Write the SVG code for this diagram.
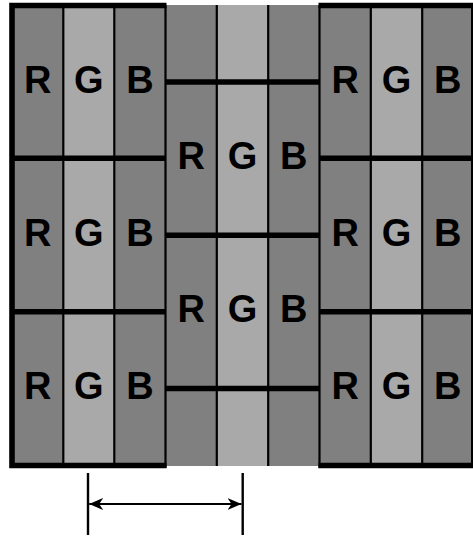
<svg xmlns="http://www.w3.org/2000/svg" width="473" height="537" viewBox="0 0 473 537">
  <style>
    .d { fill: #808080; }
    .l { fill: #a9a9a9; }
    .col { stroke: #000; stroke-width: 2.2; }
    .row { stroke: #000; stroke-width: 5.5; }
    .bord { fill: none; stroke: #000; stroke-width: 5.6; }
    .t { font-family: "Liberation Sans", Arial, sans-serif; font-weight: bold; font-size: 38px; fill: #000; text-anchor: middle; }
    .dim { stroke: #000; stroke-width: 2.4; }
  </style>
  <defs>
    <marker id="ah" viewBox="0 0 14 12" refX="14" refY="6" markerWidth="14" markerHeight="12" markerUnits="userSpaceOnUse" orient="auto-start-reverse">
      <path d="M0,0 L14,6 L0,12 L4,6 Z" fill="#000"/>
    </marker>
  </defs>
  <rect width="473" height="537" fill="#fff"/>

  <g id="middle-block">
    <rect class="d" x="165.5" y="5" width="51.3" height="461"/>
    <rect class="l" x="216.8" y="5" width="51.4" height="461"/>
    <rect class="d" x="268.2" y="5" width="51.3" height="461"/>
    <line class="col" x1="216.8" y1="5" x2="216.8" y2="466"/>
    <line class="col" x1="268.2" y1="5" x2="268.2" y2="466"/>
    <line class="row" x1="165.5" y1="82" x2="319.5" y2="82"/>
    <line class="row" x1="165.5" y1="235.3" x2="319.5" y2="235.3"/>
    <line class="row" x1="165.5" y1="388.6" x2="319.5" y2="388.6"/>
    <text class="t" x="191.2" y="169">R</text>
    <text class="t" x="242.5" y="169">G</text>
    <text class="t" x="293.8" y="169">B</text>
    <text class="t" x="191.2" y="322.3">R</text>
    <text class="t" x="242.5" y="322.3">G</text>
    <text class="t" x="293.8" y="322.3">B</text>
  </g>

  <g id="left-block">
    <rect class="d" x="12" y="5.5" width="51.3" height="460"/>
    <rect class="l" x="63.3" y="5.5" width="51" height="460"/>
    <rect class="d" x="114.3" y="5.5" width="51.2" height="460"/>
    <line class="col" x1="63.3" y1="5.5" x2="63.3" y2="465.5"/>
    <line class="col" x1="114.3" y1="5.5" x2="114.3" y2="465.5"/>
    <line class="col" x1="165.5" y1="5.5" x2="165.5" y2="468"/>
    <line class="row" x1="12" y1="158.3" x2="165.5" y2="158.3"/>
    <line class="row" x1="12" y1="311.7" x2="165.5" y2="311.7"/>
    <path class="bord" d="M166.5,5.5 H12 V465.5 H166.5"/>
    <text class="t" x="37.7" y="92.7">R</text>
    <text class="t" x="88.8" y="92.7">G</text>
    <text class="t" x="140" y="92.7">B</text>
    <text class="t" x="37.7" y="246">R</text>
    <text class="t" x="88.8" y="246">G</text>
    <text class="t" x="140" y="246">B</text>
    <text class="t" x="37.7" y="399.4">R</text>
    <text class="t" x="88.8" y="399.4">G</text>
    <text class="t" x="140" y="399.4">B</text>
  </g>

  <g id="right-block">
    <rect class="d" x="319.5" y="5.5" width="51.3" height="460"/>
    <rect class="l" x="370.8" y="5.5" width="51.4" height="460"/>
    <rect class="d" x="422.2" y="5.5" width="51.3" height="460"/>
    <line class="col" x1="370.8" y1="5.5" x2="370.8" y2="465.5"/>
    <line class="col" x1="422.2" y1="5.5" x2="422.2" y2="465.5"/>
    <line class="col" x1="319.5" y1="5.5" x2="319.5" y2="468"/>
    <line class="row" x1="319.5" y1="158.3" x2="473.5" y2="158.3"/>
    <line class="row" x1="319.5" y1="311.7" x2="473.5" y2="311.7"/>
    <path class="bord" d="M318.5,5.5 H473.8 V465.5 H318.5"/>
    <text class="t" x="345.2" y="92.7">R</text>
    <text class="t" x="396.5" y="92.7">G</text>
    <text class="t" x="447.8" y="92.7">B</text>
    <text class="t" x="345.2" y="246">R</text>
    <text class="t" x="396.5" y="246">G</text>
    <text class="t" x="447.8" y="246">B</text>
    <text class="t" x="345.2" y="399.4">R</text>
    <text class="t" x="396.5" y="399.4">G</text>
    <text class="t" x="447.8" y="399.4">B</text>
  </g>

  <g id="connectors">
    <line class="dim" x1="88" y1="473" x2="88" y2="535"/>
    <line class="dim" x1="242.7" y1="473" x2="242.7" y2="535"/>
    <line x1="89.2" y1="504" x2="241.5" y2="504" stroke="#000" stroke-width="2" marker-start="url(#ah)" marker-end="url(#ah)"/>
  </g>
</svg>
